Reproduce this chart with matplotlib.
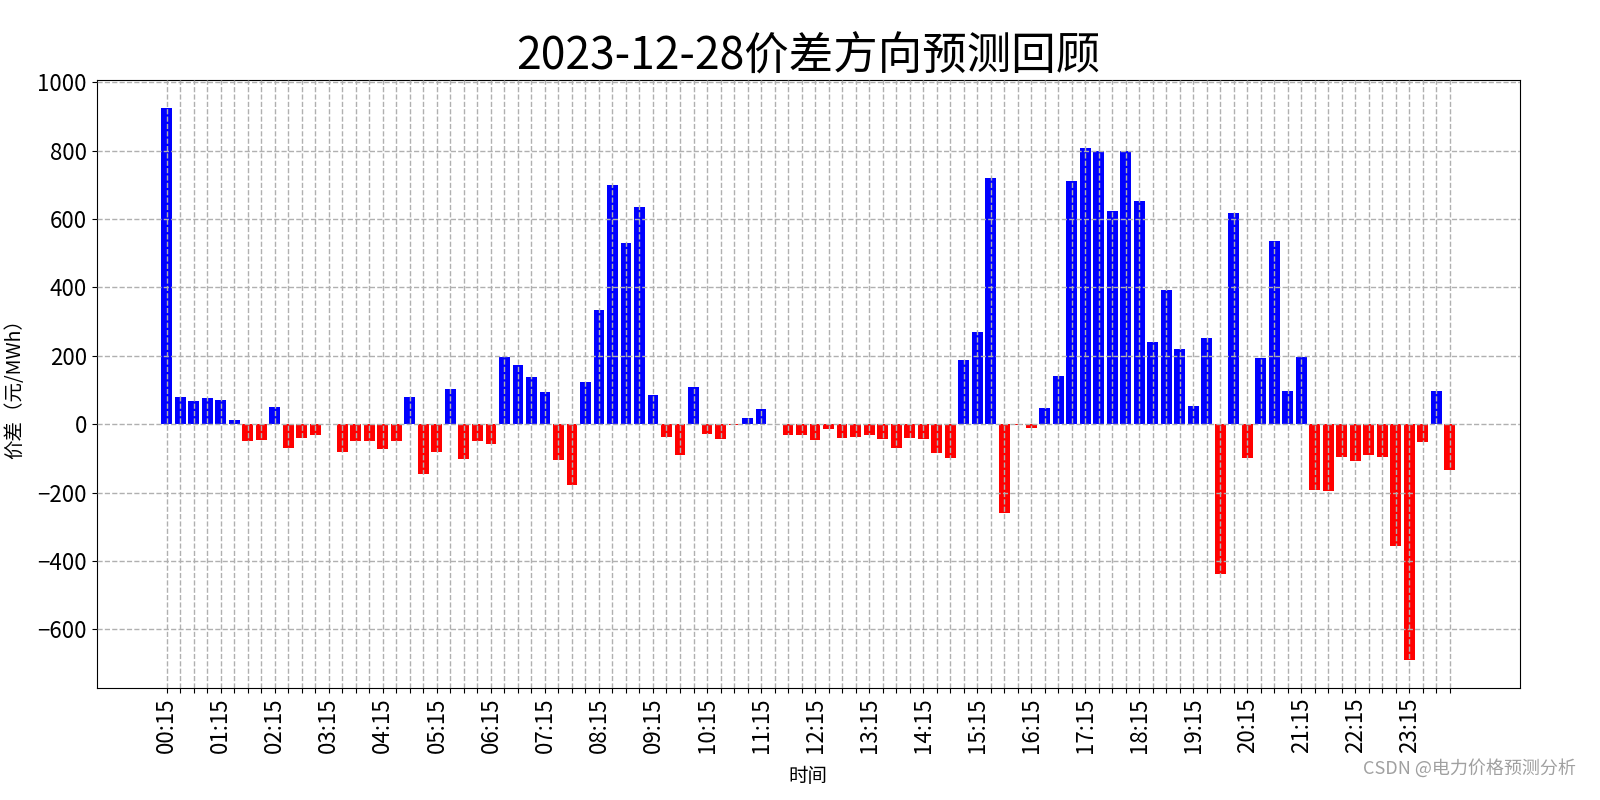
import matplotlib
matplotlib.use("Agg")
import matplotlib.pyplot as plt

plt.rcParams['font.family'] = ['Noto Sans CJK SC', 'DejaVu Sans']
plt.rcParams['axes.unicode_minus'] = True

TITLE = "2023-12-28价差方向预测回顾"

# price spread per 15-min slot, 00:15 .. 24:00
spread = [
    926, 79, 67, 76, 70, 12, -49, -47, 50, -70, -41, -32,
    0, -82, -49, -49, -73, -49, 79, -146, -82, 103, -102, -49,
    -58, 197, 173, 138, 94, -105, -178, 123, 334, 700, 531, 636,
    85, -37, -90, 108, -28, -43, -2, 18, 44, 0, -31, -31,
    -46, -14, -40, -37, -31, -43, -69, -40, -43, -84, -99, 188,
    270, 721, -260, -2, -11, 47, 141, 712, 809, 799, 624, 799,
    654, 241, 393, 220, 53, 252, -439, 618, -100, 193, 536, 97,
    197, -192, -195, -96, -107, -90, -96, -357, -691, -52, 97, -134,
]

hour_labels = ["00:15", "01:15", "02:15", "03:15", "04:15", "05:15",
               "06:15", "07:15", "08:15", "09:15", "10:15", "11:15",
               "12:15", "13:15", "14:15", "15:15", "16:15", "17:15",
               "18:15", "19:15", "20:15", "21:15", "22:15", "23:15"]

x = list(range(len(spread)))
colors = ['blue' if v > 0 else 'red' for v in spread]

fig = plt.figure(figsize=(16, 8), dpi=100)
ax = fig.add_axes([0.0604, 0.14, 0.8896, 0.76])
ax.bar(x, spread, color=colors, width=0.8)

labels = ['' for _ in x]
for k, lab in enumerate(hour_labels):
    labels[k * 4] = lab
ax.set_xticks(x)
ax.set_xticklabels(labels, rotation=90, fontsize=16)
ax.tick_params(axis='y', labelsize=16)
ax.grid(True, linestyle='--', color='#b0b0b0', linewidth=1)
ax.set_axisbelow(False)

ax.set_title(TITLE, fontsize=32, pad=6)
ax.set_xlabel("时间", fontsize=14, labelpad=9)
ax.set_ylabel("价差（元/MWh）", fontsize=14, labelpad=9)

fig.text(0.985, 0.04, "CSDN @电力价格预测分析", ha='right', va='center',
         fontsize=13, color='#a0a0a0')

fig.savefig("out.png", dpi=100)
